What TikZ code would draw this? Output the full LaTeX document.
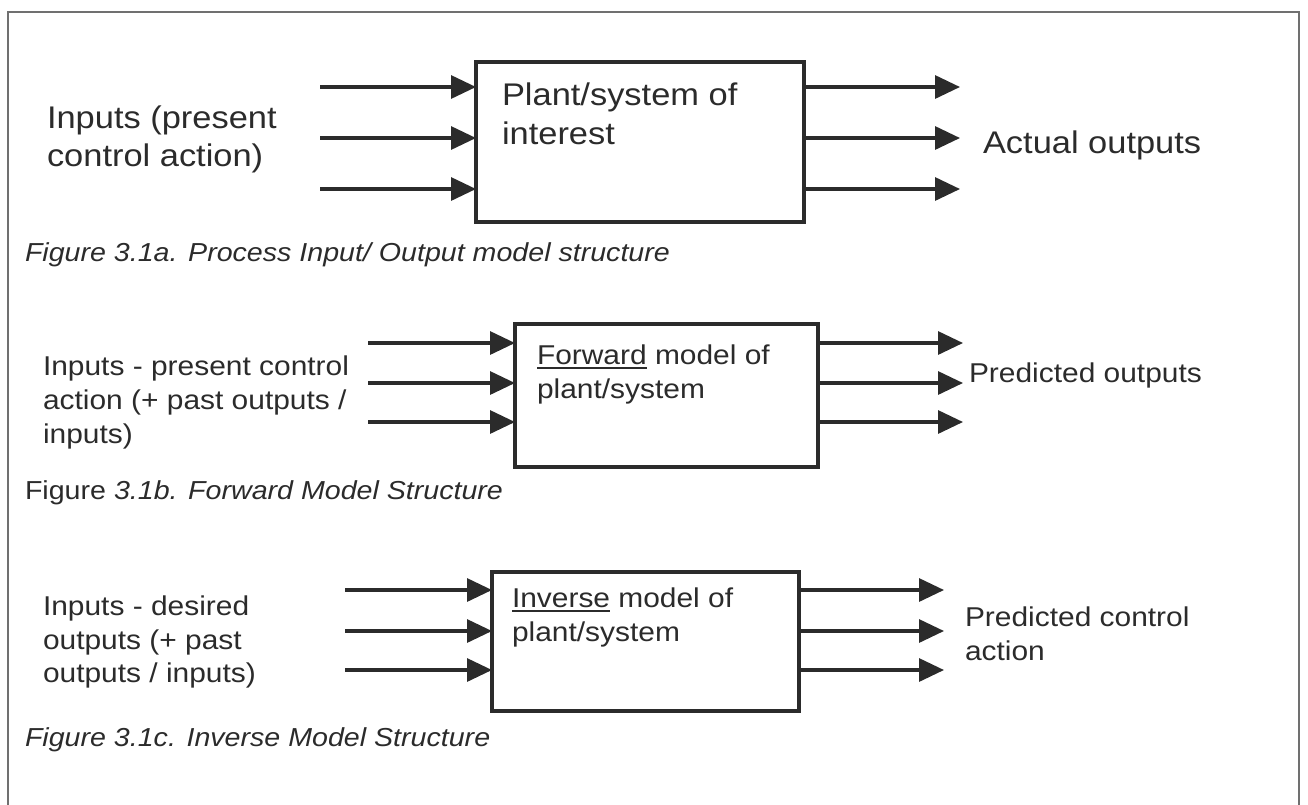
\documentclass[tikz,border=0pt]{standalone}
\usepackage{fontspec}
\setmainfont{Liberation Sans}[FakeStretch=1.1]
\usetikzlibrary{arrows.meta}
\definecolor{ink}{HTML}{2B2B2B}
\definecolor{framegray}{HTML}{707070}
% underline with a rule that scales with the large text
\newcommand\undl[1]{\setbox0\hbox{#1}\rlap{\rule[-4.5pt]{\wd0}{1.8pt}}\box0\relax}

\begin{document}
\begin{tikzpicture}[x=1pt,y=-1pt,
  blk/.style={draw=ink, line width=3.4pt, inner sep=0pt, outer sep=0pt, fill=white},
  lbl/.style={anchor=base west, inner sep=0pt, outer sep=0pt, text=ink},
  txtA/.style={lbl, font=\fontsize{31.3}{37}\selectfont},
  txtB/.style={lbl, font=\fontsize{27.2}{33}\selectfont},
  figcap/.style={lbl, font=\fontsize{26}{31}\selectfont},
  arr/.style={draw=ink, line width=3.2pt, -{Triangle[length=25pt,width=23pt]}}]
\useasboundingbox (0,0) rectangle (1308,804);
\clip (0,0) rectangle (1308,804);
\draw[framegray, line width=2.2pt] (8,12) rectangle (1299,830);

% ---------- Figure 3.1a: process input/output ----------
\node[blk, minimum width=328pt, minimum height=160pt] (pa) at (640,142) {};
\foreach \i/\y in {1/87,2/138,3/189}{
  \coordinate (ai\i) at (320,\y);
  \coordinate (ao\i) at (960,\y);
  \draw[arr] (ai\i) -- (ai\i -| pa.west);
  \draw[arr] (ao\i -| pa.east) -- (ao\i);
}
\node[txtA] (pa1) at (502,105) {Plant/system of};
\node[txtA] (pa2) at (502,144) {interest};
\node[txtA] (ina1) at (47,128) {Inputs (present};
\node[txtA] (ina2) at (47,166) {control action)};
\node[txtA] (outa) at (983,153) {Actual outputs};
\node[figcap] (capa) at (25,261) {\itshape Figure 3.1a. Process Input/ Output model structure};

% ---------- Figure 3.1b: forward model ----------
\node[blk, minimum width=303pt, minimum height=143pt] (pb) at (666.5,395.5) {};
\foreach \i/\y in {1/343,2/383,3/422}{
  \coordinate (bi\i) at (368,\y);
  \coordinate (bo\i) at (963,\y);
  \draw[arr] (bi\i) -- (bi\i -| pb.west);
  \draw[arr] (bo\i -| pb.east) -- (bo\i);
}
\node[txtB] (pb1) at (537,364) {\undl{Forward} model of};
\node[txtB] (pb2) at (537,398) {plant/system};
\node[txtB] (inb1) at (43,375) {Inputs - present control};
\node[txtB] (inb2) at (43,409) {action (+ past outputs /};
\node[txtB] (inb3) at (43,443) {inputs)};
\node[txtB] (outb) at (969,382) {Predicted outputs};
\node[figcap] (capb) at (25,499) {Figure {\itshape 3.1b. Forward Model Structure}};

% ---------- Figure 3.1c: inverse model ----------
\node[blk, minimum width=307pt, minimum height=139pt] (pc) at (645.5,641.5) {};
\foreach \i/\y in {1/590,2/631,3/670}{
  \coordinate (ci\i) at (345,\y);
  \coordinate (co\i) at (944,\y);
  \draw[arr] (ci\i) -- (ci\i -| pc.west);
  \draw[arr] (co\i -| pc.east) -- (co\i);
}
\node[txtB] (pc1) at (512,607) {\undl{Inverse} model of};
\node[txtB] (pc2) at (512,641) {plant/system};
\node[txtB] (inc1) at (43,615) {Inputs - desired};
\node[txtB] (inc2) at (43,649) {outputs (+ past};
\node[txtB] (inc3) at (43,682) {outputs / inputs)};
\node[txtB] (outc1) at (965,626) {Predicted control};
\node[txtB] (outc2) at (965,660) {action};
\node[figcap] (capc) at (25,746) {\itshape Figure 3.1c. Inverse Model Structure};
\end{tikzpicture}
\end{document}
